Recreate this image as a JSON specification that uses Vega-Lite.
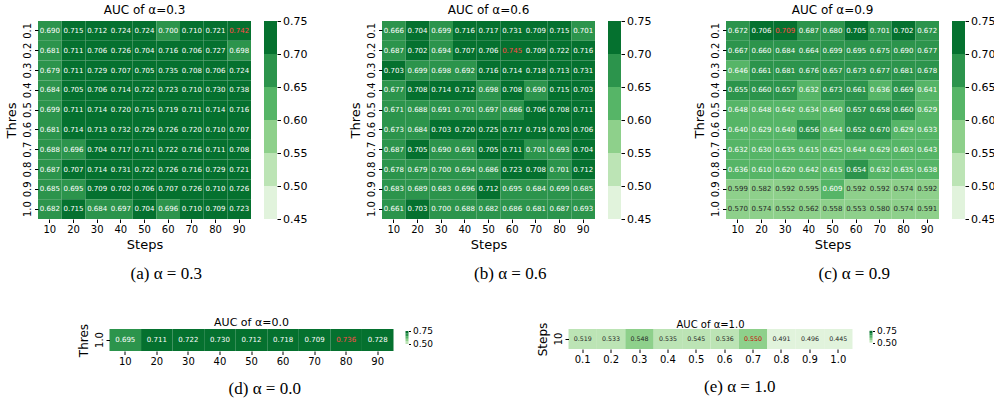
{
  "$schema": "https://vega.github.io/schema/vega-lite/v6.json",
  "background": "white",
  "padding": {"left": 5, "top": 4, "right": 5, "bottom": 5},
  "config": {
    "view": {"stroke": null},
    "font": "DejaVu Sans",
    "axis": {"domain": false, "grid": false, "tickColor": "#000", "tickSize": 3.5, "labelColor": "#000", "labelFont": "DejaVu Sans", "labelFontSize": 10, "titleFont": "DejaVu Sans", "titleFontSize": 13, "titleFontWeight": "normal", "titleColor": "#000", "labelPadding": 2},
    "title": {"font": "DejaVu Sans", "fontSize": 12, "fontWeight": "normal", "color": "#000", "offset": 4},
    "concat": {"spacing": 13}
  },
  "datasets": {
    "a": [
      {"steps":10,"thres":"0.1","auc":0.690},{"steps":20,"thres":"0.1","auc":0.715},{"steps":30,"thres":"0.1","auc":0.712},{"steps":40,"thres":"0.1","auc":0.724},{"steps":50,"thres":"0.1","auc":0.724},{"steps":60,"thres":"0.1","auc":0.6998},{"steps":70,"thres":"0.1","auc":0.710},{"steps":80,"thres":"0.1","auc":0.721},{"steps":90,"thres":"0.1","auc":0.742},
      {"steps":10,"thres":"0.2","auc":0.681},{"steps":20,"thres":"0.2","auc":0.711},{"steps":30,"thres":"0.2","auc":0.706},{"steps":40,"thres":"0.2","auc":0.726},{"steps":50,"thres":"0.2","auc":0.704},{"steps":60,"thres":"0.2","auc":0.716},{"steps":70,"thres":"0.2","auc":0.706},{"steps":80,"thres":"0.2","auc":0.727},{"steps":90,"thres":"0.2","auc":0.698},
      {"steps":10,"thres":"0.3","auc":0.679},{"steps":20,"thres":"0.3","auc":0.711},{"steps":30,"thres":"0.3","auc":0.729},{"steps":40,"thres":"0.3","auc":0.707},{"steps":50,"thres":"0.3","auc":0.705},{"steps":60,"thres":"0.3","auc":0.735},{"steps":70,"thres":"0.3","auc":0.708},{"steps":80,"thres":"0.3","auc":0.706},{"steps":90,"thres":"0.3","auc":0.724},
      {"steps":10,"thres":"0.4","auc":0.684},{"steps":20,"thres":"0.4","auc":0.705},{"steps":30,"thres":"0.4","auc":0.706},{"steps":40,"thres":"0.4","auc":0.714},{"steps":50,"thres":"0.4","auc":0.722},{"steps":60,"thres":"0.4","auc":0.723},{"steps":70,"thres":"0.4","auc":0.710},{"steps":80,"thres":"0.4","auc":0.730},{"steps":90,"thres":"0.4","auc":0.738},
      {"steps":10,"thres":"0.5","auc":0.699},{"steps":20,"thres":"0.5","auc":0.711},{"steps":30,"thres":"0.5","auc":0.714},{"steps":40,"thres":"0.5","auc":0.720},{"steps":50,"thres":"0.5","auc":0.715},{"steps":60,"thres":"0.5","auc":0.719},{"steps":70,"thres":"0.5","auc":0.711},{"steps":80,"thres":"0.5","auc":0.714},{"steps":90,"thres":"0.5","auc":0.716},
      {"steps":10,"thres":"0.6","auc":0.681},{"steps":20,"thres":"0.6","auc":0.714},{"steps":30,"thres":"0.6","auc":0.713},{"steps":40,"thres":"0.6","auc":0.732},{"steps":50,"thres":"0.6","auc":0.729},{"steps":60,"thres":"0.6","auc":0.726},{"steps":70,"thres":"0.6","auc":0.720},{"steps":80,"thres":"0.6","auc":0.710},{"steps":90,"thres":"0.6","auc":0.707},
      {"steps":10,"thres":"0.7","auc":0.688},{"steps":20,"thres":"0.7","auc":0.696},{"steps":30,"thres":"0.7","auc":0.704},{"steps":40,"thres":"0.7","auc":0.717},{"steps":50,"thres":"0.7","auc":0.711},{"steps":60,"thres":"0.7","auc":0.722},{"steps":70,"thres":"0.7","auc":0.716},{"steps":80,"thres":"0.7","auc":0.711},{"steps":90,"thres":"0.7","auc":0.708},
      {"steps":10,"thres":"0.8","auc":0.687},{"steps":20,"thres":"0.8","auc":0.707},{"steps":30,"thres":"0.8","auc":0.714},{"steps":40,"thres":"0.8","auc":0.731},{"steps":50,"thres":"0.8","auc":0.722},{"steps":60,"thres":"0.8","auc":0.726},{"steps":70,"thres":"0.8","auc":0.716},{"steps":80,"thres":"0.8","auc":0.729},{"steps":90,"thres":"0.8","auc":0.721},
      {"steps":10,"thres":"0.9","auc":0.685},{"steps":20,"thres":"0.9","auc":0.695},{"steps":30,"thres":"0.9","auc":0.709},{"steps":40,"thres":"0.9","auc":0.702},{"steps":50,"thres":"0.9","auc":0.706},{"steps":60,"thres":"0.9","auc":0.707},{"steps":70,"thres":"0.9","auc":0.726},{"steps":80,"thres":"0.9","auc":0.710},{"steps":90,"thres":"0.9","auc":0.726},
      {"steps":10,"thres":"1.0","auc":0.682},{"steps":20,"thres":"1.0","auc":0.715},{"steps":30,"thres":"1.0","auc":0.684},{"steps":40,"thres":"1.0","auc":0.697},{"steps":50,"thres":"1.0","auc":0.704},{"steps":60,"thres":"1.0","auc":0.696},{"steps":70,"thres":"1.0","auc":0.710},{"steps":80,"thres":"1.0","auc":0.709},{"steps":90,"thres":"1.0","auc":0.723}
    ],
    "b": [
      {"steps":10,"thres":"0.1","auc":0.666},{"steps":20,"thres":"0.1","auc":0.704},{"steps":30,"thres":"0.1","auc":0.699},{"steps":40,"thres":"0.1","auc":0.716},{"steps":50,"thres":"0.1","auc":0.717},{"steps":60,"thres":"0.1","auc":0.731},{"steps":70,"thres":"0.1","auc":0.709},{"steps":80,"thres":"0.1","auc":0.715},{"steps":90,"thres":"0.1","auc":0.701},
      {"steps":10,"thres":"0.2","auc":0.687},{"steps":20,"thres":"0.2","auc":0.702},{"steps":30,"thres":"0.2","auc":0.694},{"steps":40,"thres":"0.2","auc":0.707},{"steps":50,"thres":"0.2","auc":0.706},{"steps":60,"thres":"0.2","auc":0.745},{"steps":70,"thres":"0.2","auc":0.709},{"steps":80,"thres":"0.2","auc":0.722},{"steps":90,"thres":"0.2","auc":0.716},
      {"steps":10,"thres":"0.3","auc":0.703},{"steps":20,"thres":"0.3","auc":0.699},{"steps":30,"thres":"0.3","auc":0.698},{"steps":40,"thres":"0.3","auc":0.692},{"steps":50,"thres":"0.3","auc":0.716},{"steps":60,"thres":"0.3","auc":0.714},{"steps":70,"thres":"0.3","auc":0.718},{"steps":80,"thres":"0.3","auc":0.713},{"steps":90,"thres":"0.3","auc":0.731},
      {"steps":10,"thres":"0.4","auc":0.677},{"steps":20,"thres":"0.4","auc":0.708},{"steps":30,"thres":"0.4","auc":0.714},{"steps":40,"thres":"0.4","auc":0.712},{"steps":50,"thres":"0.4","auc":0.698},{"steps":60,"thres":"0.4","auc":0.708},{"steps":70,"thres":"0.4","auc":0.690},{"steps":80,"thres":"0.4","auc":0.715},{"steps":90,"thres":"0.4","auc":0.703},
      {"steps":10,"thres":"0.5","auc":0.671},{"steps":20,"thres":"0.5","auc":0.688},{"steps":30,"thres":"0.5","auc":0.691},{"steps":40,"thres":"0.5","auc":0.701},{"steps":50,"thres":"0.5","auc":0.697},{"steps":60,"thres":"0.5","auc":0.686},{"steps":70,"thres":"0.5","auc":0.706},{"steps":80,"thres":"0.5","auc":0.708},{"steps":90,"thres":"0.5","auc":0.711},
      {"steps":10,"thres":"0.6","auc":0.673},{"steps":20,"thres":"0.6","auc":0.684},{"steps":30,"thres":"0.6","auc":0.703},{"steps":40,"thres":"0.6","auc":0.720},{"steps":50,"thres":"0.6","auc":0.725},{"steps":60,"thres":"0.6","auc":0.717},{"steps":70,"thres":"0.6","auc":0.719},{"steps":80,"thres":"0.6","auc":0.703},{"steps":90,"thres":"0.6","auc":0.706},
      {"steps":10,"thres":"0.7","auc":0.687},{"steps":20,"thres":"0.7","auc":0.705},{"steps":30,"thres":"0.7","auc":0.690},{"steps":40,"thres":"0.7","auc":0.691},{"steps":50,"thres":"0.7","auc":0.705},{"steps":60,"thres":"0.7","auc":0.711},{"steps":70,"thres":"0.7","auc":0.701},{"steps":80,"thres":"0.7","auc":0.693},{"steps":90,"thres":"0.7","auc":0.704},
      {"steps":10,"thres":"0.8","auc":0.678},{"steps":20,"thres":"0.8","auc":0.679},{"steps":30,"thres":"0.8","auc":0.6998},{"steps":40,"thres":"0.8","auc":0.694},{"steps":50,"thres":"0.8","auc":0.686},{"steps":60,"thres":"0.8","auc":0.723},{"steps":70,"thres":"0.8","auc":0.708},{"steps":80,"thres":"0.8","auc":0.701},{"steps":90,"thres":"0.8","auc":0.712},
      {"steps":10,"thres":"0.9","auc":0.683},{"steps":20,"thres":"0.9","auc":0.689},{"steps":30,"thres":"0.9","auc":0.683},{"steps":40,"thres":"0.9","auc":0.696},{"steps":50,"thres":"0.9","auc":0.712},{"steps":60,"thres":"0.9","auc":0.695},{"steps":70,"thres":"0.9","auc":0.684},{"steps":80,"thres":"0.9","auc":0.699},{"steps":90,"thres":"0.9","auc":0.685},
      {"steps":10,"thres":"1.0","auc":0.661},{"steps":20,"thres":"1.0","auc":0.703},{"steps":30,"thres":"1.0","auc":0.6998},{"steps":40,"thres":"1.0","auc":0.688},{"steps":50,"thres":"1.0","auc":0.682},{"steps":60,"thres":"1.0","auc":0.686},{"steps":70,"thres":"1.0","auc":0.681},{"steps":80,"thres":"1.0","auc":0.687},{"steps":90,"thres":"1.0","auc":0.693}
    ],
    "c": [
      {"steps":10,"thres":"0.1","auc":0.672},{"steps":20,"thres":"0.1","auc":0.706},{"steps":30,"thres":"0.1","auc":0.709},{"steps":40,"thres":"0.1","auc":0.687},{"steps":50,"thres":"0.1","auc":0.680},{"steps":60,"thres":"0.1","auc":0.705},{"steps":70,"thres":"0.1","auc":0.701},{"steps":80,"thres":"0.1","auc":0.702},{"steps":90,"thres":"0.1","auc":0.672},
      {"steps":10,"thres":"0.2","auc":0.667},{"steps":20,"thres":"0.2","auc":0.660},{"steps":30,"thres":"0.2","auc":0.684},{"steps":40,"thres":"0.2","auc":0.664},{"steps":50,"thres":"0.2","auc":0.699},{"steps":60,"thres":"0.2","auc":0.695},{"steps":70,"thres":"0.2","auc":0.675},{"steps":80,"thres":"0.2","auc":0.690},{"steps":90,"thres":"0.2","auc":0.677},
      {"steps":10,"thres":"0.3","auc":0.646},{"steps":20,"thres":"0.3","auc":0.661},{"steps":30,"thres":"0.3","auc":0.681},{"steps":40,"thres":"0.3","auc":0.676},{"steps":50,"thres":"0.3","auc":0.657},{"steps":60,"thres":"0.3","auc":0.673},{"steps":70,"thres":"0.3","auc":0.677},{"steps":80,"thres":"0.3","auc":0.681},{"steps":90,"thres":"0.3","auc":0.678},
      {"steps":10,"thres":"0.4","auc":0.655},{"steps":20,"thres":"0.4","auc":0.660},{"steps":30,"thres":"0.4","auc":0.657},{"steps":40,"thres":"0.4","auc":0.632},{"steps":50,"thres":"0.4","auc":0.673},{"steps":60,"thres":"0.4","auc":0.661},{"steps":70,"thres":"0.4","auc":0.636},{"steps":80,"thres":"0.4","auc":0.669},{"steps":90,"thres":"0.4","auc":0.641},
      {"steps":10,"thres":"0.5","auc":0.648},{"steps":20,"thres":"0.5","auc":0.648},{"steps":30,"thres":"0.5","auc":0.642},{"steps":40,"thres":"0.5","auc":0.634},{"steps":50,"thres":"0.5","auc":0.640},{"steps":60,"thres":"0.5","auc":0.657},{"steps":70,"thres":"0.5","auc":0.658},{"steps":80,"thres":"0.5","auc":0.660},{"steps":90,"thres":"0.5","auc":0.629},
      {"steps":10,"thres":"0.6","auc":0.640},{"steps":20,"thres":"0.6","auc":0.629},{"steps":30,"thres":"0.6","auc":0.640},{"steps":40,"thres":"0.6","auc":0.656},{"steps":50,"thres":"0.6","auc":0.644},{"steps":60,"thres":"0.6","auc":0.652},{"steps":70,"thres":"0.6","auc":0.670},{"steps":80,"thres":"0.6","auc":0.629},{"steps":90,"thres":"0.6","auc":0.633},
      {"steps":10,"thres":"0.7","auc":0.632},{"steps":20,"thres":"0.7","auc":0.630},{"steps":30,"thres":"0.7","auc":0.635},{"steps":40,"thres":"0.7","auc":0.615},{"steps":50,"thres":"0.7","auc":0.625},{"steps":60,"thres":"0.7","auc":0.644},{"steps":70,"thres":"0.7","auc":0.629},{"steps":80,"thres":"0.7","auc":0.603},{"steps":90,"thres":"0.7","auc":0.643},
      {"steps":10,"thres":"0.8","auc":0.636},{"steps":20,"thres":"0.8","auc":0.610},{"steps":30,"thres":"0.8","auc":0.620},{"steps":40,"thres":"0.8","auc":0.642},{"steps":50,"thres":"0.8","auc":0.615},{"steps":60,"thres":"0.8","auc":0.654},{"steps":70,"thres":"0.8","auc":0.632},{"steps":80,"thres":"0.8","auc":0.635},{"steps":90,"thres":"0.8","auc":0.638},
      {"steps":10,"thres":"0.9","auc":0.599},{"steps":20,"thres":"0.9","auc":0.582},{"steps":30,"thres":"0.9","auc":0.592},{"steps":40,"thres":"0.9","auc":0.595},{"steps":50,"thres":"0.9","auc":0.609},{"steps":60,"thres":"0.9","auc":0.592},{"steps":70,"thres":"0.9","auc":0.592},{"steps":80,"thres":"0.9","auc":0.574},{"steps":90,"thres":"0.9","auc":0.592},
      {"steps":10,"thres":"1.0","auc":0.570},{"steps":20,"thres":"1.0","auc":0.574},{"steps":30,"thres":"1.0","auc":0.552},{"steps":40,"thres":"1.0","auc":0.562},{"steps":50,"thres":"1.0","auc":0.558},{"steps":60,"thres":"1.0","auc":0.553},{"steps":70,"thres":"1.0","auc":0.580},{"steps":80,"thres":"1.0","auc":0.574},{"steps":90,"thres":"1.0","auc":0.591}
    ],
    "d": [
      {"steps":10,"thres":"1.0","auc":0.695},{"steps":20,"thres":"1.0","auc":0.711},{"steps":30,"thres":"1.0","auc":0.722},{"steps":40,"thres":"1.0","auc":0.730},{"steps":50,"thres":"1.0","auc":0.712},{"steps":60,"thres":"1.0","auc":0.718},{"steps":70,"thres":"1.0","auc":0.709},{"steps":80,"thres":"1.0","auc":0.736},{"steps":90,"thres":"1.0","auc":0.728}
    ],
    "e": [
      {"steps":"10","thres":"0.1","auc":0.519},{"steps":"10","thres":"0.2","auc":0.533},{"steps":"10","thres":"0.3","auc":0.548},{"steps":"10","thres":"0.4","auc":0.535},{"steps":"10","thres":"0.5","auc":0.545},{"steps":"10","thres":"0.6","auc":0.536},{"steps":"10","thres":"0.7","auc":0.550},{"steps":"10","thres":"0.8","auc":0.491},{"steps":"10","thres":"0.9","auc":0.496},{"steps":"10","thres":"1.0","auc":0.445}
    ],
    "bins": [
      {"lo":0.45,"hi":0.50,"mid":0.475},{"lo":0.50,"hi":0.55,"mid":0.525},{"lo":0.55,"hi":0.60,"mid":0.575},{"lo":0.60,"hi":0.65,"mid":0.625},{"lo":0.65,"hi":0.70,"mid":0.675},{"lo":0.70,"hi":0.75,"mid":0.725}
    ],
    "bins2": [
      {"lo":0.50,"hi":0.55,"mid":0.525},{"lo":0.55,"hi":0.60,"mid":0.575},{"lo":0.60,"hi":0.65,"mid":0.625},{"lo":0.65,"hi":0.70,"mid":0.675},{"lo":0.70,"hi":0.75,"mid":0.725}
    ]
  },
  "resolve": {"scale": {"color": "independent"}},
  "spacing": 35,
  "center": true,
  "vconcat": [
    {
      "spacing": 42,
      "hconcat": [
        {
          "title": {"text": "(a) α = 0.3", "orient": "bottom", "anchor": "middle", "font": "Liberation Serif", "fontSize": 17, "offset": 14, "dx": 10},
          "spacing": 13,
          "hconcat": [
            {
              "title": "AUC of α=0.3",
              "data": {"name": "a"},
              "width": 213, "height": 198,
              "transform": [{"joinaggregate": [{"op": "max", "field": "auc", "as": "mx"}]}],
              "encoding": {
                "x": {"field": "steps", "type": "ordinal", "title": "Steps", "axis": {"labelAngle": 0}},
                "y": {"field": "thres", "type": "ordinal", "title": "Thres", "axis": {"labelAngle": -90}}
              },
              "layer": [
                {"mark": "rect", "encoding": {"color": {"field": "auc", "type": "quantitative", "legend": null, "scale": {"type": "threshold", "domain": [0.5, 0.547, 0.6, 0.65, 0.7015], "range": ["#e1f3dc", "#bce4b5", "#8ed08b", "#56b567", "#2c944c", "#05712f"]}}}},
                {"mark": {"type": "text", "fontSize": 7}, "encoding": {"text": {"field": "auc", "type": "quantitative", "format": ".3f"}, "color": {"condition": [{"test": "datum.auc === datum.mx", "value": "#ff4a4a"}, {"test": "datum.auc < 0.6", "value": "#262626"}], "value": "#ffffff"}}}
              ]
            },
            {
              "data": {"name": "bins"},
              "width": 13, "height": 198,
              "mark": "rect",
              "encoding": {
                "y": {"field": "lo", "type": "quantitative", "scale": {"domain": [0.45, 0.75], "nice": false, "zero": false}, "axis": {"orient": "right", "values": [0.45, 0.5, 0.55, 0.6, 0.65, 0.7, 0.75], "format": ".2f", "title": null, "labelFontSize": 11}},
                "y2": {"field": "hi"},
                "color": {"field": "mid", "type": "quantitative", "legend": null, "scale": {"type": "threshold", "domain": [0.5, 0.547, 0.6, 0.65, 0.7015], "range": ["#e1f3dc", "#bce4b5", "#8ed08b", "#56b567", "#2c944c", "#05712f"]}}
              }
            }
          ]
        },
        {
          "title": {"text": "(b) α = 0.6", "orient": "bottom", "anchor": "middle", "font": "Liberation Serif", "fontSize": 17, "offset": 14, "dx": 10},
          "spacing": 13,
          "hconcat": [
            {
              "title": "AUC of α=0.6",
              "data": {"name": "b"},
              "width": 213, "height": 198,
              "transform": [{"joinaggregate": [{"op": "max", "field": "auc", "as": "mx"}]}],
              "encoding": {
                "x": {"field": "steps", "type": "ordinal", "title": "Steps", "axis": {"labelAngle": 0}},
                "y": {"field": "thres", "type": "ordinal", "title": "Thres", "axis": {"labelAngle": -90}}
              },
              "layer": [
                {"mark": "rect", "encoding": {"color": {"field": "auc", "type": "quantitative", "legend": null, "scale": {"type": "threshold", "domain": [0.5, 0.547, 0.6, 0.65, 0.7015], "range": ["#e1f3dc", "#bce4b5", "#8ed08b", "#56b567", "#2c944c", "#05712f"]}}}},
                {"mark": {"type": "text", "fontSize": 7}, "encoding": {"text": {"field": "auc", "type": "quantitative", "format": ".3f"}, "color": {"condition": [{"test": "datum.auc === datum.mx", "value": "#ff4a4a"}, {"test": "datum.auc < 0.6", "value": "#262626"}], "value": "#ffffff"}}}
              ]
            },
            {
              "data": {"name": "bins"},
              "width": 13, "height": 198,
              "mark": "rect",
              "encoding": {
                "y": {"field": "lo", "type": "quantitative", "scale": {"domain": [0.45, 0.75], "nice": false, "zero": false}, "axis": {"orient": "right", "values": [0.45, 0.5, 0.55, 0.6, 0.65, 0.7, 0.75], "format": ".2f", "title": null, "labelFontSize": 11}},
                "y2": {"field": "hi"},
                "color": {"field": "mid", "type": "quantitative", "legend": null, "scale": {"type": "threshold", "domain": [0.5, 0.547, 0.6, 0.65, 0.7015], "range": ["#e1f3dc", "#bce4b5", "#8ed08b", "#56b567", "#2c944c", "#05712f"]}}
              }
            }
          ]
        },
        {
          "title": {"text": "(c) α = 0.9", "orient": "bottom", "anchor": "middle", "font": "Liberation Serif", "fontSize": 17, "offset": 14, "dx": 10},
          "spacing": 13,
          "hconcat": [
            {
              "title": "AUC of α=0.9",
              "data": {"name": "c"},
              "width": 213, "height": 198,
              "transform": [{"joinaggregate": [{"op": "max", "field": "auc", "as": "mx"}]}],
              "encoding": {
                "x": {"field": "steps", "type": "ordinal", "title": "Steps", "axis": {"labelAngle": 0}},
                "y": {"field": "thres", "type": "ordinal", "title": "Thres", "axis": {"labelAngle": -90}}
              },
              "layer": [
                {"mark": "rect", "encoding": {"color": {"field": "auc", "type": "quantitative", "legend": null, "scale": {"type": "threshold", "domain": [0.5, 0.547, 0.6, 0.65, 0.7015], "range": ["#e1f3dc", "#bce4b5", "#8ed08b", "#56b567", "#2c944c", "#05712f"]}}}},
                {"mark": {"type": "text", "fontSize": 7}, "encoding": {"text": {"field": "auc", "type": "quantitative", "format": ".3f"}, "color": {"condition": [{"test": "datum.auc === datum.mx", "value": "#ff4a4a"}, {"test": "datum.auc < 0.6", "value": "#262626"}], "value": "#ffffff"}}}
              ]
            },
            {
              "data": {"name": "bins"},
              "width": 13, "height": 198,
              "mark": "rect",
              "encoding": {
                "y": {"field": "lo", "type": "quantitative", "scale": {"domain": [0.45, 0.75], "nice": false, "zero": false}, "axis": {"orient": "right", "values": [0.45, 0.5, 0.55, 0.6, 0.65, 0.7, 0.75], "format": ".2f", "title": null, "labelFontSize": 11}},
                "y2": {"field": "hi"},
                "color": {"field": "mid", "type": "quantitative", "legend": null, "scale": {"type": "threshold", "domain": [0.5, 0.547, 0.6, 0.65, 0.7015], "range": ["#e1f3dc", "#bce4b5", "#8ed08b", "#56b567", "#2c944c", "#05712f"]}}
              }
            }
          ]
        }
      ]
    },
    {
      "spacing": 102,
      "hconcat": [
        {
          "title": {"text": "(d) α = 0.0", "orient": "bottom", "anchor": "middle", "font": "Liberation Serif", "fontSize": 17, "offset": 14, "dx": 10},
          "spacing": 12,
          "hconcat": [
            {
              "title": {"text": "AUC of α=0.0", "fontSize": 11, "offset": -5},
              "data": {"name": "d"},
              "width": 284, "height": 22,
              "transform": [{"joinaggregate": [{"op": "max", "field": "auc", "as": "mx"}]}],
              "encoding": {
                "x": {"field": "steps", "type": "ordinal", "title": null, "axis": {"labelAngle": 0}},
                "y": {"field": "thres", "type": "ordinal", "title": "Thres", "axis": {"labelAngle": -90, "titleFontSize": 12}}
              },
              "layer": [
                {"mark": "rect", "encoding": {"color": {"field": "auc", "type": "quantitative", "legend": null, "scale": {"type": "threshold", "domain": [0.5, 0.547, 0.6, 0.65, 0.7015], "range": ["#e1f3dc", "#bce4b5", "#8ed08b", "#56b567", "#2c944c", "#05712f"]}}}},
                {"mark": {"type": "text", "fontSize": 7}, "encoding": {"text": {"field": "auc", "type": "quantitative", "format": ".3f"}, "color": {"condition": [{"test": "datum.auc === datum.mx", "value": "#ff4a4a"}, {"test": "datum.auc < 0.6", "value": "#262626"}], "value": "#ffffff"}}}
              ]
            },
            {
              "data": {"name": "bins2"},
              "width": 3, "height": 22,
              "mark": "rect",
              "encoding": {
                "y": {"field": "lo", "type": "quantitative", "scale": {"domain": [0.365, 0.788], "nice": false, "zero": false}, "axis": {"orient": "right", "values": [0.5, 0.75], "format": ".2f", "title": null, "labelFontSize": 9, "tickSize": 2}},
                "y2": {"field": "hi"},
                "color": {"field": "mid", "type": "quantitative", "legend": null, "scale": {"type": "threshold", "domain": [0.5, 0.547, 0.6, 0.65, 0.7015], "range": ["#e1f3dc", "#bce4b5", "#8ed08b", "#56b567", "#2c944c", "#05712f"]}}
              }
            }
          ]
        },
        {
          "title": {"text": "(e) α = 1.0", "orient": "bottom", "anchor": "middle", "font": "Liberation Serif", "fontSize": 17, "offset": 14, "dx": 10},
          "spacing": 17,
          "hconcat": [
            {
              "title": {"text": "AUC of α=1.0", "fontSize": 10, "offset": -8},
              "data": {"name": "e"},
              "width": 284, "height": 20,
              "transform": [{"joinaggregate": [{"op": "max", "field": "auc", "as": "mx"}]}],
              "encoding": {
                "x": {"field": "thres", "type": "ordinal", "title": null, "axis": {"labelAngle": 0}},
                "y": {"field": "steps", "type": "ordinal", "title": "Steps", "axis": {"labelAngle": -90, "titleFontSize": 12}}
              },
              "layer": [
                {"mark": "rect", "encoding": {"color": {"field": "auc", "type": "quantitative", "legend": null, "scale": {"type": "threshold", "domain": [0.5, 0.547, 0.6, 0.65, 0.7015], "range": ["#e1f3dc", "#bce4b5", "#8ed08b", "#56b567", "#2c944c", "#05712f"]}}}},
                {"mark": {"type": "text", "fontSize": 6.3}, "encoding": {"text": {"field": "auc", "type": "quantitative", "format": ".3f"}, "color": {"condition": [{"test": "datum.auc === datum.mx", "value": "#c80000"}, {"test": "datum.auc < 0.6", "value": "#262626"}], "value": "#ffffff"}}}
              ]
            },
            {
              "data": {"name": "bins2"},
              "width": 3, "height": 20,
              "mark": "rect",
              "encoding": {
                "y": {"field": "lo", "type": "quantitative", "scale": {"domain": [0.365, 0.788], "nice": false, "zero": false}, "axis": {"orient": "right", "values": [0.5, 0.75], "format": ".2f", "title": null, "labelFontSize": 9, "tickSize": 2, "minExtent": 51}},
                "y2": {"field": "hi"},
                "color": {"field": "mid", "type": "quantitative", "legend": null, "scale": {"type": "threshold", "domain": [0.5, 0.547, 0.6, 0.65, 0.7015], "range": ["#e1f3dc", "#bce4b5", "#8ed08b", "#56b567", "#2c944c", "#05712f"]}}
              }
            }
          ]
        }
      ]
    }
  ]
}
